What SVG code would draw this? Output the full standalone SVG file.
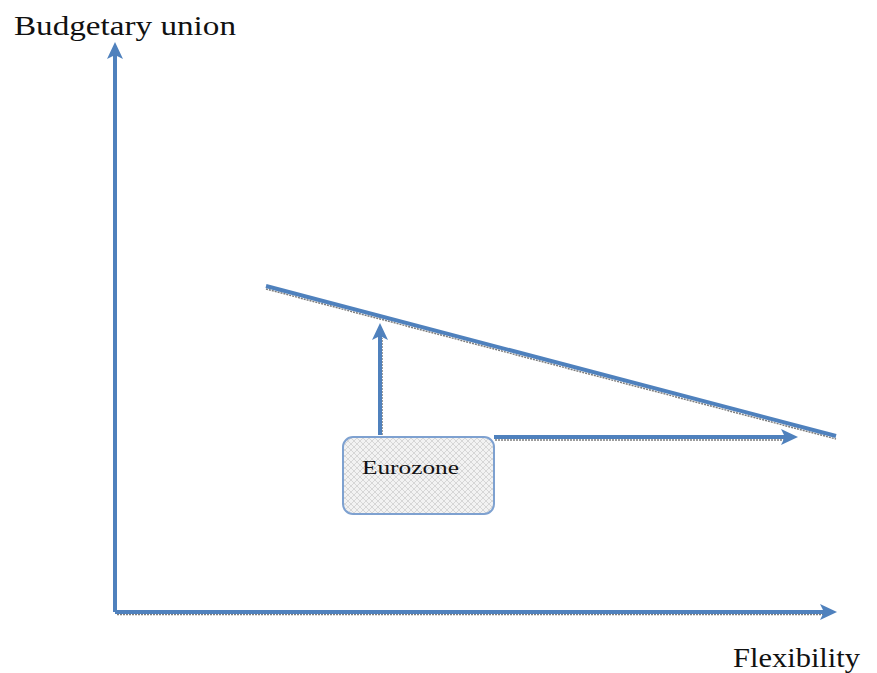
<svg xmlns="http://www.w3.org/2000/svg" width="877" height="673" viewBox="0 0 877 673">
<style>
.ln{stroke:#4f81bd;stroke-width:4;fill:none}
.sh{stroke:#444;stroke-width:1.5;stroke-dasharray:2 1;fill:none;opacity:0.7}
.lbl{font-family:"Liberation Serif",serif;fill:#111}
</style>
<defs>
<marker id="ah" markerWidth="17" markerHeight="16" refX="4" refY="8" orient="auto" markerUnits="userSpaceOnUse">
<path d="M0,0 L17,8 L0,16 L4,8 Z" fill="#4f81bd"/>
</marker>
<pattern id="pt" width="6" height="6" patternUnits="userSpaceOnUse">
<rect width="6" height="6" fill="#f2f2f2"/>
<path d="M0,3 L3,0 L6,3 L3,6 Z" fill="none" stroke="#cfcfcf" stroke-width="0.8"/>
</pattern>
</defs>
<g id="connectors">
<path class="sh" d="M117,614.5 L824,614.5"/>
<path class="sh" d="M266,289 L836,439"/>
<path class="sh" d="M495,440 L786,440"/>
<path class="sh" d="M382,435 L382,338"/>
<path class="ln" d="M115,612 L115,55" marker-end="url(#ah)"/>
<path class="ln" d="M115,612 L824,612" marker-end="url(#ah)"/>
<path class="ln" d="M266,286 L836,436"/>
<path class="ln" d="M380,435 L380,336" marker-end="url(#ah)"/>
<path class="ln" d="M494,437 L785,437" marker-end="url(#ah)"/>
</g>
<g id="eurozone">
<rect x="343" y="437" width="151" height="77" rx="10" fill="url(#pt)" stroke="#7ea1d0" stroke-width="2"/>
<text class="lbl" x="362" y="474" font-size="18" textLength="97" lengthAdjust="spacingAndGlyphs">Eurozone</text>
</g>
<g id="axis-labels">
<text class="lbl" x="14" y="35" font-size="28" textLength="222" lengthAdjust="spacingAndGlyphs">Budgetary union</text>
<text class="lbl" x="733" y="667" font-size="28" textLength="127" lengthAdjust="spacingAndGlyphs">Flexibility</text>
</g>
</svg>
